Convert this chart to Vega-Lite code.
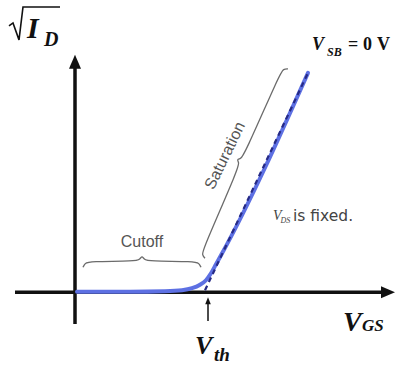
{
  "$schema": "https://vega.github.io/schema/vega-lite/v6.json",
  "width": 405,
  "height": 365,
  "padding": 0,
  "autosize": {"type": "fit", "contains": "padding"},
  "background": "white",
  "config": {"view": {"stroke": null}},
  "datasets": {
    "yaxis": [{"i": 0, "vgs": 0, "s": -32}, {"i": 1, "vgs": 0, "s": 226}],
    "xaxis": [{"i": 0, "vgs": -60, "s": 0}, {"i": 1, "vgs": 307, "s": 0}],
    "vth_stem": [{"i": 0, "vgs": 133, "s": -29}, {"i": 1, "vgs": 133, "s": -11}],
    "radical": [
      {"i": 0, "vgs": -66, "s": 267},
      {"i": 1, "vgs": -62, "s": 270},
      {"i": 2, "vgs": -56, "s": 253},
      {"i": 3, "vgs": -52, "s": 286},
      {"i": 4, "vgs": -15, "s": 286}
    ],
    "braces": [
      {"brace": "cutoff", "i": 0, "vgs": 8, "s": 25},
      {"brace": "cutoff", "i": 1, "vgs": 10, "s": 29},
      {"brace": "cutoff", "i": 2, "vgs": 14, "s": 31},
      {"brace": "cutoff", "i": 3, "vgs": 61, "s": 31},
      {"brace": "cutoff", "i": 4, "vgs": 65, "s": 33},
      {"brace": "cutoff", "i": 5, "vgs": 67, "s": 36.5},
      {"brace": "cutoff", "i": 6, "vgs": 69, "s": 33},
      {"brace": "cutoff", "i": 7, "vgs": 73, "s": 31},
      {"brace": "cutoff", "i": 8, "vgs": 120, "s": 31},
      {"brace": "cutoff", "i": 9, "vgs": 124, "s": 29},
      {"brace": "cutoff", "i": 10, "vgs": 126, "s": 25},
      {"brace": "saturation", "i": 0, "vgs": 130, "s": 34},
      {"brace": "saturation", "i": 1, "vgs": 127.1, "s": 37.4},
      {"brace": "saturation", "i": 2, "vgs": 127.8, "s": 42.6},
      {"brace": "saturation", "i": 3, "vgs": 164, "s": 125.7},
      {"brace": "saturation", "i": 4, "vgs": 163.8, "s": 130.1},
      {"brace": "saturation", "i": 5, "vgs": 161.9, "s": 133.2},
      {"brace": "saturation", "i": 6, "vgs": 165.4, "s": 133.8},
      {"brace": "saturation", "i": 7, "vgs": 168.8, "s": 136.6},
      {"brace": "saturation", "i": 8, "vgs": 205.2, "s": 219.8},
      {"brace": "saturation", "i": 9, "vgs": 208.5, "s": 223.8},
      {"brace": "saturation", "i": 10, "vgs": 213, "s": 224}
    ],
    "curve": [
      {"i": 0, "vgs": 2, "s": 0.5},
      {"i": 1, "vgs": 55, "s": 0.5},
      {"i": 2, "vgs": 90, "s": 1},
      {"i": 3, "vgs": 107, "s": 2},
      {"i": 4, "vgs": 117, "s": 4},
      {"i": 5, "vgs": 125, "s": 7.5},
      {"i": 6, "vgs": 131, "s": 12},
      {"i": 7, "vgs": 136, "s": 19},
      {"i": 8, "vgs": 141, "s": 28},
      {"i": 9, "vgs": 146, "s": 37},
      {"i": 10, "vgs": 233, "s": 220}
    ],
    "asymptote": [{"i": 0, "vgs": 130, "s": 2}, {"i": 1, "vgs": 233, "s": 220}],
    "bias_value": [
      {"vgs": 273, "s": 243, "t": "="},
      {"vgs": 288, "s": 243, "t": "0"},
      {"vgs": 302, "s": 243, "t": "V"}
    ]
  },
  "encoding": {
    "x": {"field": "vgs", "type": "quantitative", "scale": {"domain": [-75, 330], "nice": false, "zero": false}, "axis": null},
    "y": {"field": "s", "type": "quantitative", "scale": {"domain": [-72, 293], "nice": false, "zero": false}, "axis": null}
  },
  "layer": [
    {"data": {"name": "braces"}, "mark": {"type": "line", "interpolate": "basis", "stroke": "#6b6b6b", "strokeWidth": 1.3}, "encoding": {"detail": {"field": "brace"}, "order": {"field": "i", "type": "quantitative"}}},
    {"data": {"name": "yaxis"}, "mark": {"type": "line", "stroke": "#111", "strokeWidth": 3.5}, "encoding": {"order": {"field": "i", "type": "quantitative"}}},
    {"data": {"name": "xaxis"}, "mark": {"type": "line", "stroke": "#111", "strokeWidth": 3.5}, "encoding": {"order": {"field": "i", "type": "quantitative"}}},
    {"data": {"name": "vth_stem"}, "mark": {"type": "line", "stroke": "#111", "strokeWidth": 1.5}, "encoding": {"order": {"field": "i", "type": "quantitative"}}},
    {"data": {"values": [{"vgs": 0, "s": 238}]}, "mark": {"type": "point", "shape": "M0,0L0.43,1L-0.43,1Z", "size": 784, "filled": true, "fill": "#111", "stroke": null, "opacity": 1}},
    {"data": {"values": [{"vgs": 320, "s": 0}]}, "mark": {"type": "point", "shape": "M0,0L-1,-0.43L-1,0.43Z", "size": 784, "filled": true, "fill": "#111", "stroke": null, "opacity": 1}},
    {"data": {"values": [{"vgs": 133, "s": -5}]}, "mark": {"type": "point", "shape": "M0,0L0.4,1L-0.4,1Z", "size": 196, "filled": true, "fill": "#111", "stroke": null, "opacity": 1}},
    {"data": {"name": "curve"}, "mark": {"type": "line", "interpolate": "monotone", "stroke": "#5d70e3", "strokeWidth": 4, "strokeCap": "round"}, "encoding": {"order": {"field": "i", "type": "quantitative"}}},
    {"data": {"name": "asymptote"}, "mark": {"type": "line", "stroke": "#262a86", "strokeWidth": 2.2, "strokeDash": [5, 4]}, "encoding": {"order": {"field": "i", "type": "quantitative"}}},
    {"data": {"name": "radical"}, "mark": {"type": "line", "stroke": "#111", "strokeWidth": 1.6, "strokeJoin": "miter"}, "encoding": {"order": {"field": "i", "type": "quantitative"}}},
    {"data": {"values": [{"vgs": -48, "s": 255, "t": "I"}]}, "mark": {"type": "text", "align": "left", "baseline": "alphabetic", "font": "Liberation Serif", "fontStyle": "italic", "fontWeight": "bold", "fontSize": 30, "fill": "#111"}, "encoding": {"text": {"field": "t"}}},
    {"data": {"values": [{"vgs": -31, "s": 247, "t": "D"}]}, "mark": {"type": "text", "align": "left", "baseline": "alphabetic", "font": "Liberation Serif", "fontStyle": "italic", "fontWeight": "bold", "fontSize": 20, "fill": "#111"}, "encoding": {"text": {"field": "t"}}},
    {"data": {"values": [{"vgs": 237, "s": 243, "t": "V"}]}, "mark": {"type": "text", "align": "left", "baseline": "alphabetic", "font": "Liberation Serif", "fontStyle": "italic", "fontWeight": "bold", "fontSize": 18, "fill": "#111"}, "encoding": {"text": {"field": "t"}}},
    {"data": {"values": [{"vgs": 252, "s": 236.5, "t": "SB"}]}, "mark": {"type": "text", "align": "left", "baseline": "alphabetic", "font": "Liberation Serif", "fontStyle": "italic", "fontWeight": "bold", "fontSize": 12, "fill": "#111"}, "encoding": {"text": {"field": "t"}}},
    {"data": {"name": "bias_value"}, "mark": {"type": "text", "align": "left", "baseline": "alphabetic", "font": "Liberation Serif", "fontWeight": "bold", "fontSize": 18, "fill": "#111"}, "encoding": {"text": {"field": "t"}}},
    {"data": {"values": [{"vgs": 268, "s": -39, "t": "V"}]}, "mark": {"type": "text", "align": "left", "baseline": "alphabetic", "font": "Liberation Serif", "fontStyle": "italic", "fontWeight": "bold", "fontSize": 28, "fill": "#111"}, "encoding": {"text": {"field": "t"}}},
    {"data": {"values": [{"vgs": 287, "s": -39, "t": "GS"}]}, "mark": {"type": "text", "align": "left", "baseline": "alphabetic", "font": "Liberation Serif", "fontStyle": "italic", "fontWeight": "bold", "fontSize": 17, "fill": "#111"}, "encoding": {"text": {"field": "t"}}},
    {"data": {"values": [{"vgs": 120, "s": -62, "t": "V"}]}, "mark": {"type": "text", "align": "left", "baseline": "alphabetic", "font": "Liberation Serif", "fontStyle": "italic", "fontWeight": "bold", "fontSize": 26, "fill": "#111"}, "encoding": {"text": {"field": "t"}}},
    {"data": {"values": [{"vgs": 139, "s": -69, "t": "th"}]}, "mark": {"type": "text", "align": "left", "baseline": "alphabetic", "font": "Liberation Serif", "fontStyle": "italic", "fontWeight": "bold", "fontSize": 19, "fill": "#111"}, "encoding": {"text": {"field": "t"}}},
    {"data": {"values": [{"vgs": 67, "s": 45, "t": "Cutoff"}]}, "mark": {"type": "text", "align": "center", "baseline": "alphabetic", "font": "Liberation Sans", "fontSize": 16, "fill": "#555"}, "encoding": {"text": {"field": "t"}}},
    {"data": {"values": [{"vgs": 150, "s": 137, "t": "Saturation"}]}, "mark": {"type": "text", "align": "center", "baseline": "middle", "angle": 296, "font": "Liberation Sans", "fontSize": 16, "fill": "#555"}, "encoding": {"text": {"field": "t"}}},
    {"data": {"values": [{"vgs": 198, "s": 72, "t": "V"}]}, "mark": {"type": "text", "align": "left", "baseline": "alphabetic", "font": "Liberation Serif", "fontStyle": "italic", "fontSize": 14, "fill": "#444"}, "encoding": {"text": {"field": "t"}}},
    {"data": {"values": [{"vgs": 205.5, "s": 69, "t": "DS"}]}, "mark": {"type": "text", "align": "left", "baseline": "alphabetic", "font": "Liberation Serif", "fontStyle": "italic", "fontSize": 8, "fill": "#444"}, "encoding": {"text": {"field": "t"}}},
    {"data": {"values": [{"vgs": 218, "s": 71.5, "t": "is fixed."}]}, "mark": {"type": "text", "align": "left", "baseline": "alphabetic", "font": "DejaVu Sans", "fontSize": 15.5, "fill": "#444"}, "encoding": {"text": {"field": "t"}}}
  ]
}
